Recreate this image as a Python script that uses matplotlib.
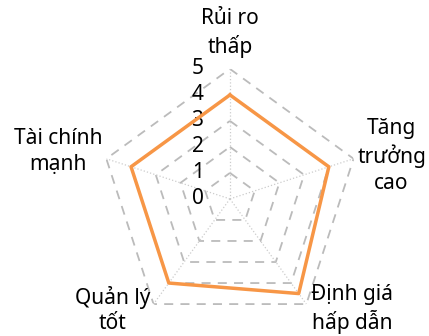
import numpy as np
import matplotlib
matplotlib.use("Agg")
import matplotlib.pyplot as plt

plt.rcParams['font.family'] = ['Noto Sans', 'DejaVu Sans']

categories = ["Rủi ro\nthấp", "Tăng\ntrưởng\ncao", "Định giá\nhấp dẫn", "Quản lý\ntốt", "Tài chính\nmạnh"]
values = [4, 4, 4.5, 4, 4]
levels = [1, 2, 3, 4, 5]
tick_labels = ["0", "1", "2", "3", "4", "5"]

# label offsets from each outer vertex, in pixels
label_offsets = [(0, 36), (38, 3), (46, -5), (-41, -6), (-48, 7)]

n = len(categories)
angles = np.linspace(0, 2 * np.pi, n, endpoint=False)
closed = np.append(angles, angles[0])

fig = plt.figure(figsize=(4.29, 3.36), dpi=100)
ax = fig.add_axes([0.233, 0.021, 0.606, 0.774], projection='polar')
ax.set_theta_offset(np.pi / 2)
ax.set_theta_direction(-1)
ax.set_ylim(0, 5)

# polygon grid
for lv in levels:
    ax.plot(closed, [lv] * (n + 1), color="#bbbbbb", lw=1.3, ls=(0, (5, 4)), zorder=1)

ax.set_xticks(angles)
ax.set_xticklabels([])
ax.set_yticks([])
ax.xaxis.grid(True, color="#cccccc", lw=0.9, ls=":")
ax.yaxis.grid(False)
ax.spines['polar'].set_visible(False)
ax.set_facecolor("none")

# radial labels
for i, lab in enumerate(tick_labels):
    ax.annotate(lab, xy=(0, i), xytext=(-19, 0), textcoords="offset points",
                ha="right", va="center", fontsize=15, annotation_clip=False)

# category labels
for a, lab, (dx, dy) in zip(angles, categories, label_offsets):
    ax.annotate(lab, xy=(a, 5), xytext=(dx * 0.72, dy * 0.72), textcoords="offset points",
                ha="center", va="center", fontsize=15, linespacing=1.3,
                annotation_clip=False)

v = values + values[:1]
ax.plot(closed, v, color="#f79646", lw=2.5, zorder=3)

fig.savefig("out.png", dpi=100)
